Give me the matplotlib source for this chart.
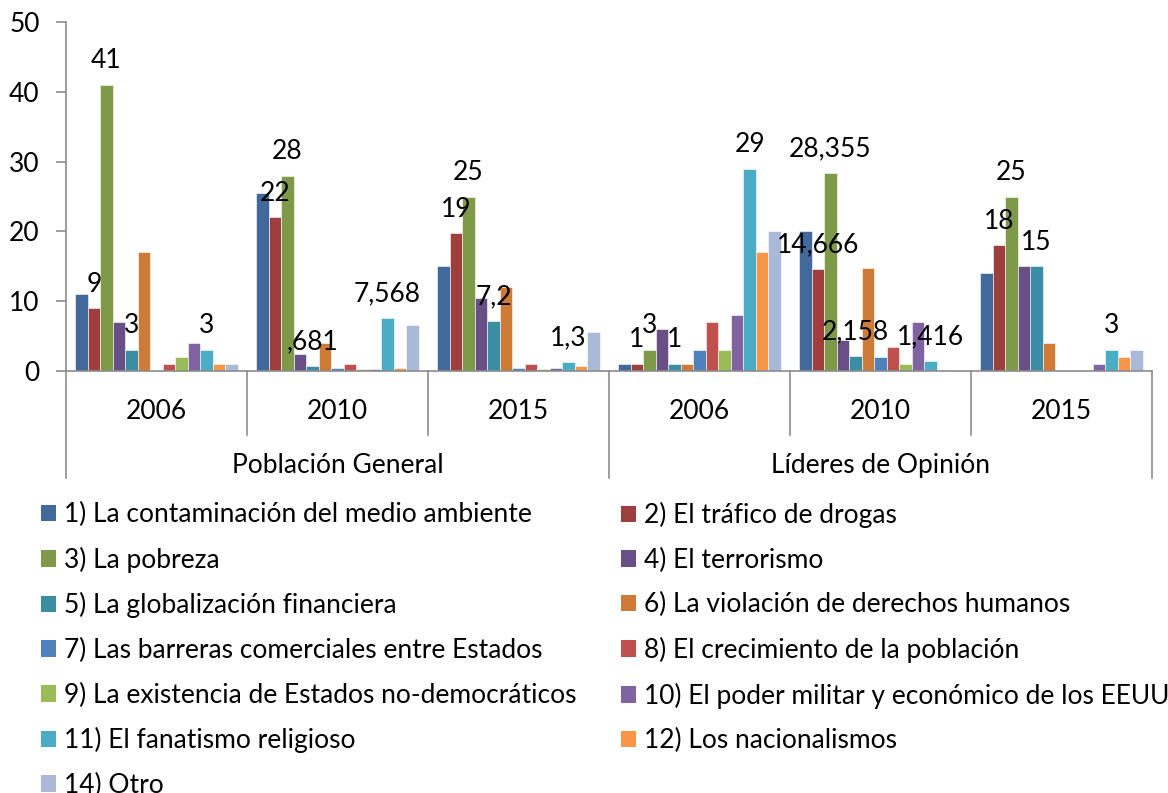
import matplotlib
matplotlib.use("Agg")
import matplotlib.pyplot as plt
import numpy as np
from matplotlib.patches import Patch
import matplotlib.transforms as mtransforms

plt.rcParams['font.family'] = ['Lato', 'DejaVu Sans']

# ---------------- data ----------------
years = ["2006", "2010", "2015", "2006", "2010", "2015"]
groups = ["Población General", "Líderes de Opinión"]

series_names = [
    "1) La contaminación del medio ambiente",
    "2) El tráfico de drogas",
    "3) La pobreza",
    "4) El terrorismo",
    "5) La globalización financiera",
    "6) La violación de derechos humanos",
    "7) Las barreras comerciales entre Estados",
    "8) El crecimiento de la población",
    "9) La existencia de Estados no-democráticos",
    "10) El poder militar y económico de los EEUU",
    "11) El fanatismo religioso",
    "12) Los nacionalismos",
    "14) Otro",
]
colors = ["#41699C", "#9E3F3D", "#7E9A48", "#684F86", "#3A8DA2", "#CE7B38",
          "#4F81BD", "#C0504D", "#9BBB59", "#8064A2", "#4BACC6", "#F79646",
          "#AAB9D8"]

s1 = [11, 25.5, 15.1, 1, 20, 14]
s2 = [9, 22, 19.7, 1, 14.666, 18]
s3 = [41, 28, 25, 3, 28.355, 25]
s4 = [7, 2.5, 10.4, 6, 4.5, 15]
s5 = [3, 0.681, 7.2, 1, 2.158, 15]
s6 = [17, 4, 12, 1, 14.8, 4]
s7 = [0, 0.4, 0.5, 3, 2, 0]
s8 = [1, 1, 1, 7, 3.5, 0]
s9 = [2, 0.3, 0.3, 3, 1, 0]
s10 = [4, 0.35, 0.4, 8, 7, 1]
s11 = [3, 7.568, 1.3, 29, 1.416, 3]
s12 = [1, 0.4, 0.7, 17, 0.1, 2]
s14 = [1, 6.6, 5.6, 20, 0, 3]
values = [s1, s2, s3, s4, s5, s6, s7, s8, s9, s10, s11, s12, s14]

# data labels shown on the chart (series index -> label texts)
labels_s2 = ["9", "22", "19", "1", "14,666", "18"]
labels_s3 = ["41", "28", "25", "3", "28,355", "25"]
labels_s5 = ["3", ",681", "7,2", "1", "2,158", "15"]
labels_s11 = ["3", "7,568", "1,3", "29", "1,416", "3"]
data_labels = {1: labels_s2, 2: labels_s3, 4: labels_s5, 10: labels_s11}

# ---------------- figure ----------------
W, H = 1168, 793
fig = plt.figure(figsize=(W / 100, H / 100), dpi=100)
ax_l, ax_r, ax_b, ax_t = 66, 1152, 371, 22
ax = fig.add_axes([ax_l / W, 1 - ax_b / H, (ax_r - ax_l) / W, (ax_b - ax_t) / H])

FS = 19
n = len(values)
x = np.arange(len(years))
w = 0.9 / n
for i, (vals, c) in enumerate(zip(values, colors)):
    pos = x - 0.45 + (i + 0.5) * w
    ax.bar(pos, vals, width=w, color=c, edgecolor='white', linewidth=0.4)
    if i in data_labels:
        for xi, v, t in zip(pos, vals, data_labels[i]):
            ax.annotate(t, (xi, v), xytext=(0, 12), textcoords='offset points',
                        ha='center', va='baseline', fontsize=FS, color='black')

ax.set_xlim(-0.5, len(years) - 0.5)
ax.set_ylim(0, 50)
ax.set_yticks([0, 10, 20, 30, 40, 50])
axis_gray = "#8C8C8C"
for s in ['top', 'right']:
    ax.spines[s].set_visible(False)
for s in ['left', 'bottom']:
    ax.spines[s].set_color(axis_gray)
    ax.spines[s].set_linewidth(1.2)
ax.tick_params(axis='y', colors=axis_gray, labelcolor='black', labelsize=FS,
               length=7, width=1.2, direction='out', pad=12)
ax.set_xticks([])

axh = ax_b - ax_t
trans = mtransforms.blended_transform_factory(ax.transData, ax.transAxes)
for xi, yr in zip(x, years):
    ax.text(xi, (ax_b - 419) / axh, yr, transform=trans, ha='center',
            va='baseline', fontsize=FS)
for gi, g in enumerate(groups):
    ax.text(gi * 3 + 1, (ax_b - 473) / axh, g, transform=trans, ha='center',
            va='baseline', fontsize=FS)
for sep in np.arange(-0.5, len(years), 1.0):
    outer = (int(round(sep + 0.5)) % 3 == 0)
    yend = (ax_b - (478 if outer else 435)) / axh
    ax.plot([sep, sep], [0, yend], transform=trans, color=axis_gray,
            linewidth=1.2, clip_on=False)

# ---------------- legend (two columns) ----------------
left_idx = [0, 2, 4, 6, 8, 10, 12]
right_idx = [1, 3, 5, 7, 9, 11]
common = dict(frameon=False, fontsize=FS, loc='upper left', borderpad=0,
              borderaxespad=0, handlelength=0.58, handleheight=0.58,
              handletextpad=0.3, labelspacing=0.74)
fig.legend([Patch(facecolor=colors[i]) for i in left_idx],
           [series_names[i] for i in left_idx],
           bbox_to_anchor=(41 / W, 1 - 502 / H), **common)
fig.legend([Patch(facecolor=colors[i]) for i in right_idx],
           [series_names[i] for i in right_idx],
           bbox_to_anchor=(621 / W, 1 - 502 / H), **common)

fig.savefig("out.png", dpi=100)
